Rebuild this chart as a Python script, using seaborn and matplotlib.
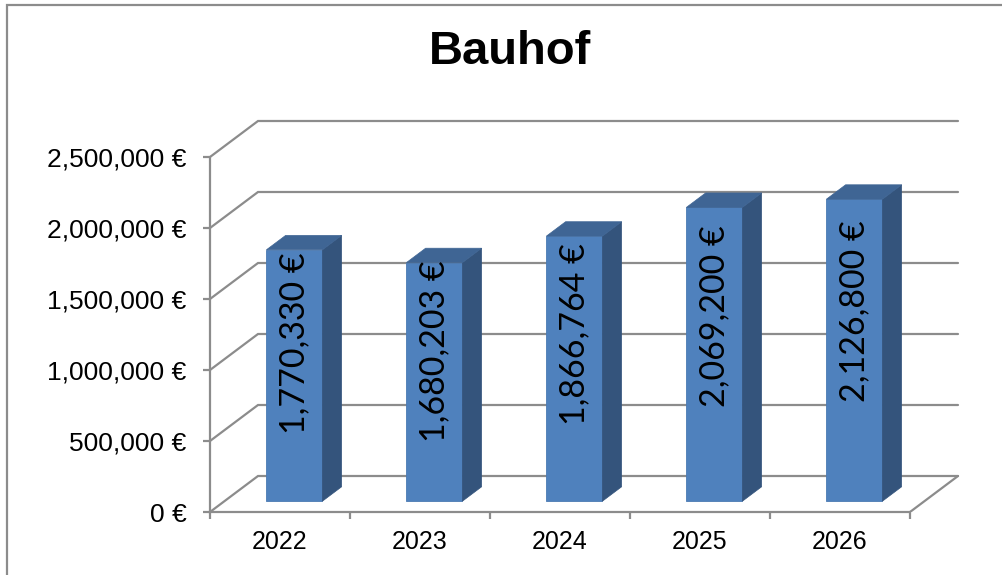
import matplotlib
matplotlib.use("Agg")
import matplotlib.pyplot as plt
from matplotlib.patches import Polygon, Rectangle
from matplotlib.transforms import Affine2D
import seaborn as sns
import pandas as pd

# data
years = ["2022", "2023", "2024", "2025", "2026"]
budget = [1770330, 1680203, 1866764, 2069200, 2126800]
ytick_values = [0, 500000, 1000000, 1500000, 2000000, 2500000]

df = pd.DataFrame({"Jahr": years, "Betrag": budget})

sns.set_theme(style="white")
plt.rcParams["font.family"] = ["Liberation Sans", "DejaVu Sans"]
plt.rcParams["text.color"] = "black"
plt.rcParams["xtick.labelcolor"] = "black"
plt.rcParams["ytick.labelcolor"] = "black"

FRONT = "#4F81BD"
TOP = "#3F6594"
SIDE = "#34547C"
GRID = "#8C8C8C"

# pixel geometry of the pseudo-3D frame
W, H = 1002, 575
PX_X = 140.0            # pixels per category
PX_Y = 71.0 / 500000    # pixels per euro
DX = 48 / PX_X          # depth offset of back wall (category units)
DY = 36 / PX_Y          # depth offset of back wall (euro units)

fig = plt.figure(figsize=(W / 100, H / 100), dpi=100)
ax = fig.add_axes([210 / W, 63 / H, 755 / W, 400 / H])

x0, x1 = -0.5, len(years) - 0.5

# front faces
sns.barplot(data=df, x="Jahr", y="Betrag", color=FRONT, width=0.4,
            saturation=1, ax=ax, zorder=3)

ax.set_xlim(-0.5, -0.5 + 755 / PX_X)
ax.set_ylim(0, 400 / PX_Y)

# back wall gridlines and floor
for v in ytick_values:
    ax.plot([x0, x0 + DX, x1 + DX], [v, v + DY, v + DY], color=GRID, lw=1.6,
            zorder=1, solid_joinstyle="miter")
ax.plot([x1, x1 + DX], [0, DY], color=GRID, lw=1.6, zorder=1)

bar_shift = Affine2D().translate(0.3 * DX, 0.3 * DY) + ax.transData
sdx, sdy = 0.4 * DX, 0.4 * DY
for p, val in zip(ax.patches[:len(budget)], budget):
    p.set_transform(bar_shift)
    p.set_edgecolor("#4A7AB3")
    p.set_linewidth(0.6)
    bx0 = p.get_x()
    bx1 = bx0 + p.get_width()
    h = p.get_height()
    side = Polygon([(bx1, 0), (bx1, h), (bx1 + sdx, h + sdy), (bx1 + sdx, sdy)],
                   closed=True, facecolor=SIDE, edgecolor=SIDE, lw=0.5,
                   transform=bar_shift, zorder=3)
    top = Polygon([(bx0, h), (bx1, h), (bx1 + sdx, h + sdy), (bx0 + sdx, h + sdy)],
                  closed=True, facecolor=TOP, edgecolor=TOP, lw=0.5,
                  transform=bar_shift, zorder=3)
    ax.add_patch(side)
    ax.add_patch(top)
    ax.text(bx0 + p.get_width() / 2, val * 0.63, f"{val:,.0f} €",
            rotation=90, ha="center", va="center", fontsize=24.5,
            family=["Lato", "DejaVu Sans"], color="black",
            transform=bar_shift, zorder=4)

# axes styling
for s in ["top", "right"]:
    ax.spines[s].set_visible(False)
for s in ["left", "bottom"]:
    ax.spines[s].set_color(GRID)
    ax.spines[s].set_linewidth(1.6)
ax.spines["left"].set_bounds(0, ytick_values[-1])
ax.spines["bottom"].set_bounds(x0, x1)

ax.set_yticks(ytick_values)
ax.set_yticklabels([f"{v:,.0f} €" for v in ytick_values])
ax.tick_params(axis="y", direction="out", length=5, width=1.6, color=GRID,
               pad=12, labelsize=19, left=True, labelcolor="black")

ax.set_xticks([i - 0.5 for i in range(len(years) + 1)])
ax.set_xticklabels([])
ax.set_xticks(range(len(years)), minor=True)
ax.set_xticklabels(years, minor=True)
ax.tick_params(axis="x", which="major", direction="out", length=5, width=1.6,
               color=GRID, bottom=True)
ax.tick_params(axis="x", which="minor", length=0, pad=13, labelsize=18,
               labelcolor="black")
ax.set_xlabel("")
ax.set_ylabel("")
ax.grid(False)
ax.set_facecolor("none")

fig.text(510 / W, 1 - 52 / H, "Bauhof", ha="center", va="center",
         fontsize=34, fontweight="bold", color="black")

# chart border
fig.patches.append(Rectangle((7 / W, -0.1), 1.2, 1 - 5 / H + 0.1,
                             transform=fig.transFigure, fill=False,
                             edgecolor=GRID, lw=1.6))

fig.savefig("out.png", dpi=100)
